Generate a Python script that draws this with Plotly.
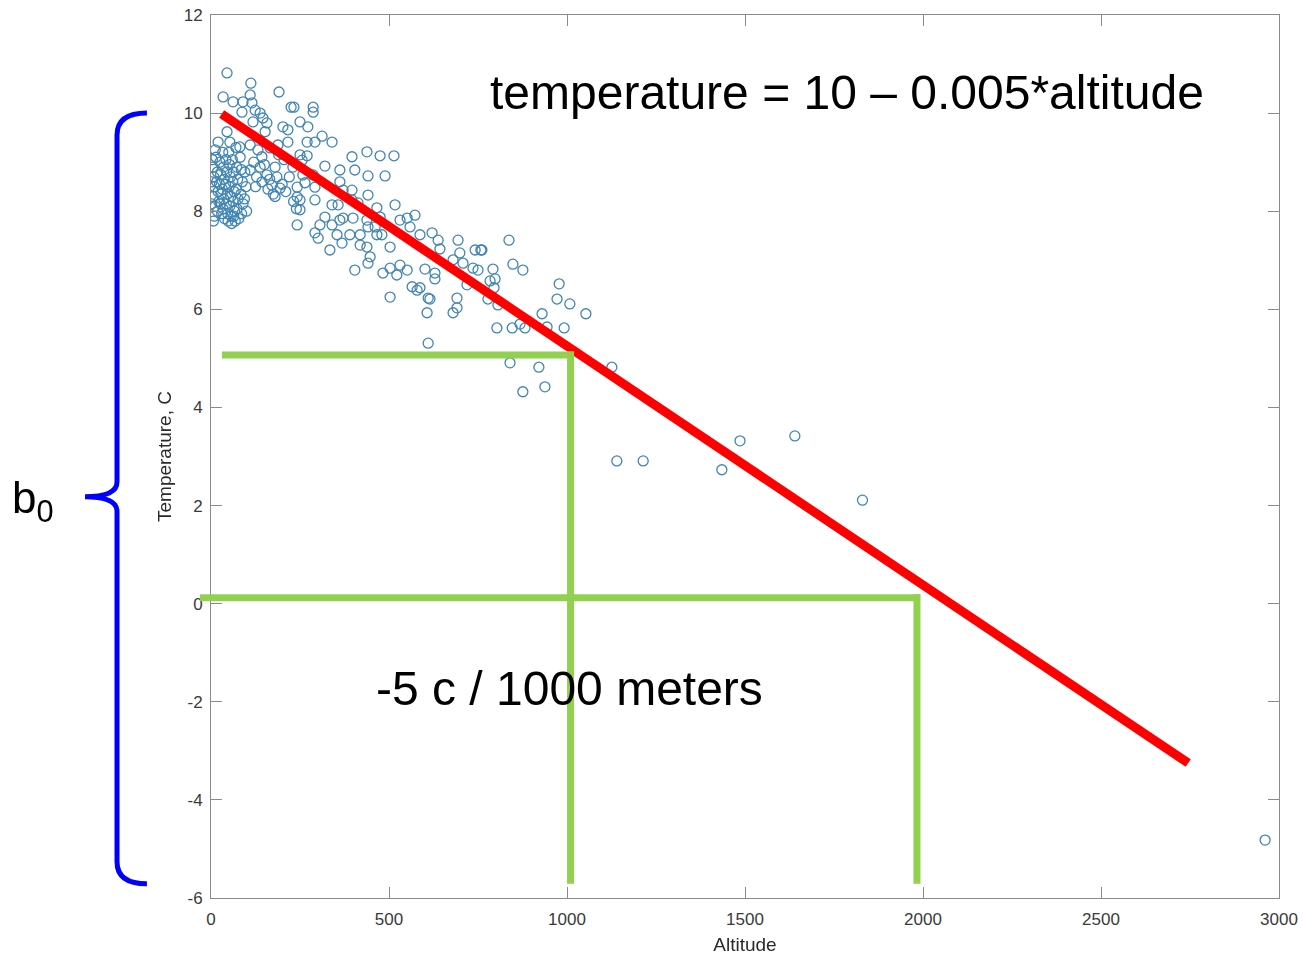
import plotly.graph_objects as go

# ---------------- data ----------------
altitude = [
    # dense low-altitude cluster
    5, 8, 10, 6, 12, 9, 14, 18, 16, 20, 22, 18, 25, 27, 24, 28, 26, 30, 33, 35, 37, 32, 36, 34, 38,
    42, 44, 41, 46, 43, 47, 50, 52, 55, 51, 56, 53, 57, 60, 63, 61, 65, 62, 66, 70, 72, 75, 71, 76,
    73, 78, 82, 85, 88, 84, 90, 86, 95, 98, 94, 100, 12, 4, 3, 2, 7, 48, 58, 68, 64,
    120, 128, 150, 165, 185, 200, 210, 125, 160, 175, 220, 230, 205, 190, 180, 232, 240,
    # upper-left scatter
    45, 112, 191, 34, 62, 110, 90, 115, 225, 233, 287, 287, 87, 124, 138, 146, 118, 157, 152, 250,
    202, 216, 216, 45, 20, 53, 81, 110, 132, 188, 166, 256, 143, 180, 138, 110, 157, 143, 171, 194,
    242, 242, 250, 242,
    # middle band
    272, 312, 270, 292, 340, 396, 438, 475, 514, 250, 270, 320, 362, 404, 441, 489, 258, 287, 362, 396,
    441, 371, 264, 292, 250, 292, 340, 357, 396, 413, 466, 517, 475, 320, 362, 371, 399, 438, 531, 551,
    573, 306, 340, 441, 461, 292, 301, 354, 390, 419, 466, 480, 559, 587, 503, 334, 368, 419, 438, 447,
    441, 404, 503, 531, 551, 483, 522, 503, 565, 579,
    # right part of the band
    621, 638, 694, 643, 699, 742, 758, 680, 708, 736, 750, 601, 629, 629, 784, 719, 587, 610, 615, 691,
    691, 680, 607, 610, 837, 761, 848, 876, 792, 798, 795, 778, 806, 803, 846, 868, 882, 930, 944, 978,
    972, 1008, 992, 1053, 840, 921, 876, 938, 1126,
    # sparse high-altitude points
    1140, 1214, 1435, 1486, 1640, 1830, 2961,
]
temperature = [
    8.9, 8.7, 8.5, 8.3, 8.1, 7.9, 9.1, 8.8, 8.6, 8.4, 8.2, 8.0, 9.0, 8.75, 8.55, 8.35, 8.15, 7.95, 9.2, 8.9, 8.65, 8.45, 8.25, 8.05, 7.85,
    9.05, 8.8, 8.55, 8.35, 8.15, 7.95, 9.2, 8.95, 8.7, 8.5, 8.3, 8.1, 7.9, 9.05, 8.8, 8.6, 8.4, 8.2, 8.0, 9.3, 8.9, 8.65, 8.45, 8.25,
    8.05, 7.85, 9.1, 8.85, 8.6, 8.35, 8.15, 7.95, 8.8, 8.5, 8.25, 8.0, 9.25, 9.05, 8.6, 8.15, 7.8, 7.8, 7.75, 7.8, 7.9,
    9.0, 8.7, 8.95, 8.65, 8.7, 8.55, 8.4, 8.5, 8.45, 8.35, 8.7, 8.9, 9.05, 9.15, 8.3, 8.2, 8.05,
    10.82, 10.61, 10.43, 10.33, 10.23, 10.37, 10.23, 10.21, 10.12, 10.12, 10.12, 10.02, 10.02, 10.06, 10.0, 9.9, 9.82, 9.8, 9.62, 9.82,
    9.72, 9.66, 9.41, 9.62, 9.41, 9.41, 9.31, 9.35, 9.25, 9.35, 9.29, 9.04, 9.11, 8.9, 8.9, 8.84, 8.74, 8.6, 8.53, 8.47,
    8.49, 8.29, 8.03, 7.72,
    9.72, 9.53, 9.41, 9.41, 9.41, 9.11, 9.21, 9.13, 9.13, 9.15, 9.13, 8.92, 8.84, 8.84, 8.72, 8.72, 8.74, 8.74, 8.6, 8.43,
    8.33, 8.43, 8.58, 8.49, 8.23, 8.23, 8.13, 8.13, 8.23, 8.17, 8.07, 8.13, 7.88, 7.88, 7.82, 7.86, 7.86, 7.82, 7.82, 7.86,
    7.92, 7.72, 7.72, 7.68, 7.68, 7.56, 7.45, 7.52, 7.52, 7.52, 7.52, 7.52, 7.68, 7.52, 7.27, 7.21, 7.35, 7.31, 7.27, 7.07,
    6.94, 6.8, 6.84, 6.9, 6.8, 6.74, 6.7, 6.25, 6.46, 6.39,
    7.56, 7.41, 7.41, 7.23, 7.15, 7.21, 7.21, 7.01, 6.94, 6.84, 6.8, 6.82, 6.74, 6.62, 6.58, 6.5, 6.44, 6.23, 6.21, 6.23,
    6.03, 5.93, 5.93, 5.31, 7.41, 7.21, 6.92, 6.8, 6.82, 6.62, 6.44, 6.21, 6.09, 5.62, 5.62, 5.7, 5.62, 5.91, 5.64, 6.52,
    6.21, 6.11, 5.62, 5.91, 4.91, 4.82, 4.32, 4.42, 4.82,
    2.91, 2.91, 2.73, 3.32, 3.42, 2.11, -4.82,
]

fit_x = [30, 2745]
fit_y = [9.98, -3.25]

# green guide segments (x0, y0, x1, y1) in data units
guides = [
    (31, 5.07, 1019, 5.07),
    (1010, 5.14, 1010, -5.71),
    (-31, 0.12, 1992, 0.12),
    (1983, 0.19, 1983, -5.71),
]

x_ticks = [0, 500, 1000, 1500, 2000, 2500, 3000]
x_tick_text = ["0", "500", "1000", "1500", "2000", "2500", "3000"]
y_ticks = [-6, -4, -2, 0, 2, 4, 6, 8, 10, 12]
y_tick_text = ["-6", "-4", "-2", "0", "2", "4", "6", "8", "10", "12"]
X_RANGE = [0, 3000]
Y_RANGE = [-6, 12]

FONT = "Liberation Sans, Arial, sans-serif"
AXIS_COL = "#8a8a8a"
TICK_TXT = "#3a3a3a"

fig = go.Figure()
fig.add_trace(go.Scatter(
    x=altitude, y=temperature, mode="markers",
    marker=dict(symbol="circle-open", size=10, color="#1f6fa5",
                line=dict(width=1.3)),
    opacity=0.85, showlegend=False, hoverinfo="skip"))

fig.add_trace(go.Scatter(
    x=fit_x, y=fit_y, mode="lines",
    line=dict(color="#ff0000", width=9), showlegend=False, hoverinfo="skip"))


def xp(x):
    return (x - X_RANGE[0]) / (X_RANGE[1] - X_RANGE[0])


def yp(y):
    return (y - Y_RANGE[0]) / (Y_RANGE[1] - Y_RANGE[0])


for x0, y0, x1, y1 in guides:
    fig.add_shape(type="line", xref="paper", yref="y",
                  x0=xp(x0), y0=y0, x1=xp(x1), y1=y1,
                  line=dict(color="#92d050", width=7))

# curly brace for b0 (data units, drawn outside the axes)
bx_end, bx_mid, bx_tip = -180, -264, -354
by_top, by_tip, by_bot = 10.0, 2.18, -5.71
path = (
    f"M {xp(bx_end)},{yp(by_top)} "
    f"Q {xp(bx_mid)},{yp(by_top)} {xp(bx_mid)},{yp(by_top - 0.45)} "
    f"L {xp(bx_mid)},{yp(by_tip + 0.3)} "
    f"Q {xp(bx_mid)},{yp(by_tip)} {xp(bx_tip)},{yp(by_tip)} "
    f"Q {xp(bx_mid)},{yp(by_tip)} {xp(bx_mid)},{yp(by_tip - 0.3)} "
    f"L {xp(bx_mid)},{yp(by_bot + 0.45)} "
    f"Q {xp(bx_mid)},{yp(by_bot)} {xp(bx_end)},{yp(by_bot)}"
)
fig.add_shape(type="path", xref="paper", yref="paper", path=path,
              line=dict(color="#0000ff", width=5))

fig.add_annotation(x=1787, y=10.43, xref="x", yref="y",
                   text="temperature = 10 \u2013 0.005*altitude", showarrow=False,
                   font=dict(family=FONT, size=48, color="#000000"),
                   xanchor="center", yanchor="middle")
fig.add_annotation(x=1008, y=-1.72, xref="x", yref="y",
                   text="-5 c / 1000 meters", showarrow=False,
                   font=dict(family=FONT, size=48, color="#000000"),
                   xanchor="center", yanchor="middle")
fig.add_annotation(x=xp(-500), y=yp(2.1), xref="paper", yref="paper",
                   text="b<sub>0</sub>", showarrow=False,
                   font=dict(family=FONT, size=44, color="#000000"),
                   xanchor="center", yanchor="middle")

axis_common = dict(
    showgrid=False, zeroline=False, showline=True, linecolor=AXIS_COL, linewidth=1,
    mirror="ticks", ticks="inside", ticklen=11, tickcolor=AXIS_COL, tickwidth=1,
    tickfont=dict(family=FONT, size=17, color=TICK_TXT), automargin=False,
)

fig.update_layout(
    width=1303, height=956,
    margin=dict(l=211, r=24, t=15, b=58),
    paper_bgcolor="white", plot_bgcolor="white",
    xaxis=dict(range=X_RANGE, tickvals=x_ticks, ticktext=x_tick_text, **axis_common,
               ticklabelstandoff=6,
               title=dict(text="Altitude", standoff=9,
                          font=dict(family=FONT, size=19, color="#2a2a2a"))),
    yaxis=dict(range=Y_RANGE, tickvals=y_ticks, ticktext=y_tick_text, **axis_common,
               ticklabelstandoff=4,
               title=dict(text="Temperature, C", standoff=7,
                          font=dict(family=FONT, size=19, color="#2a2a2a"))),
)

fig.write_html(
    "out.html",
    config={"displayModeBar": False},
    post_script="document.body.style.margin='0';document.body.style.overflow='hidden';",
)
